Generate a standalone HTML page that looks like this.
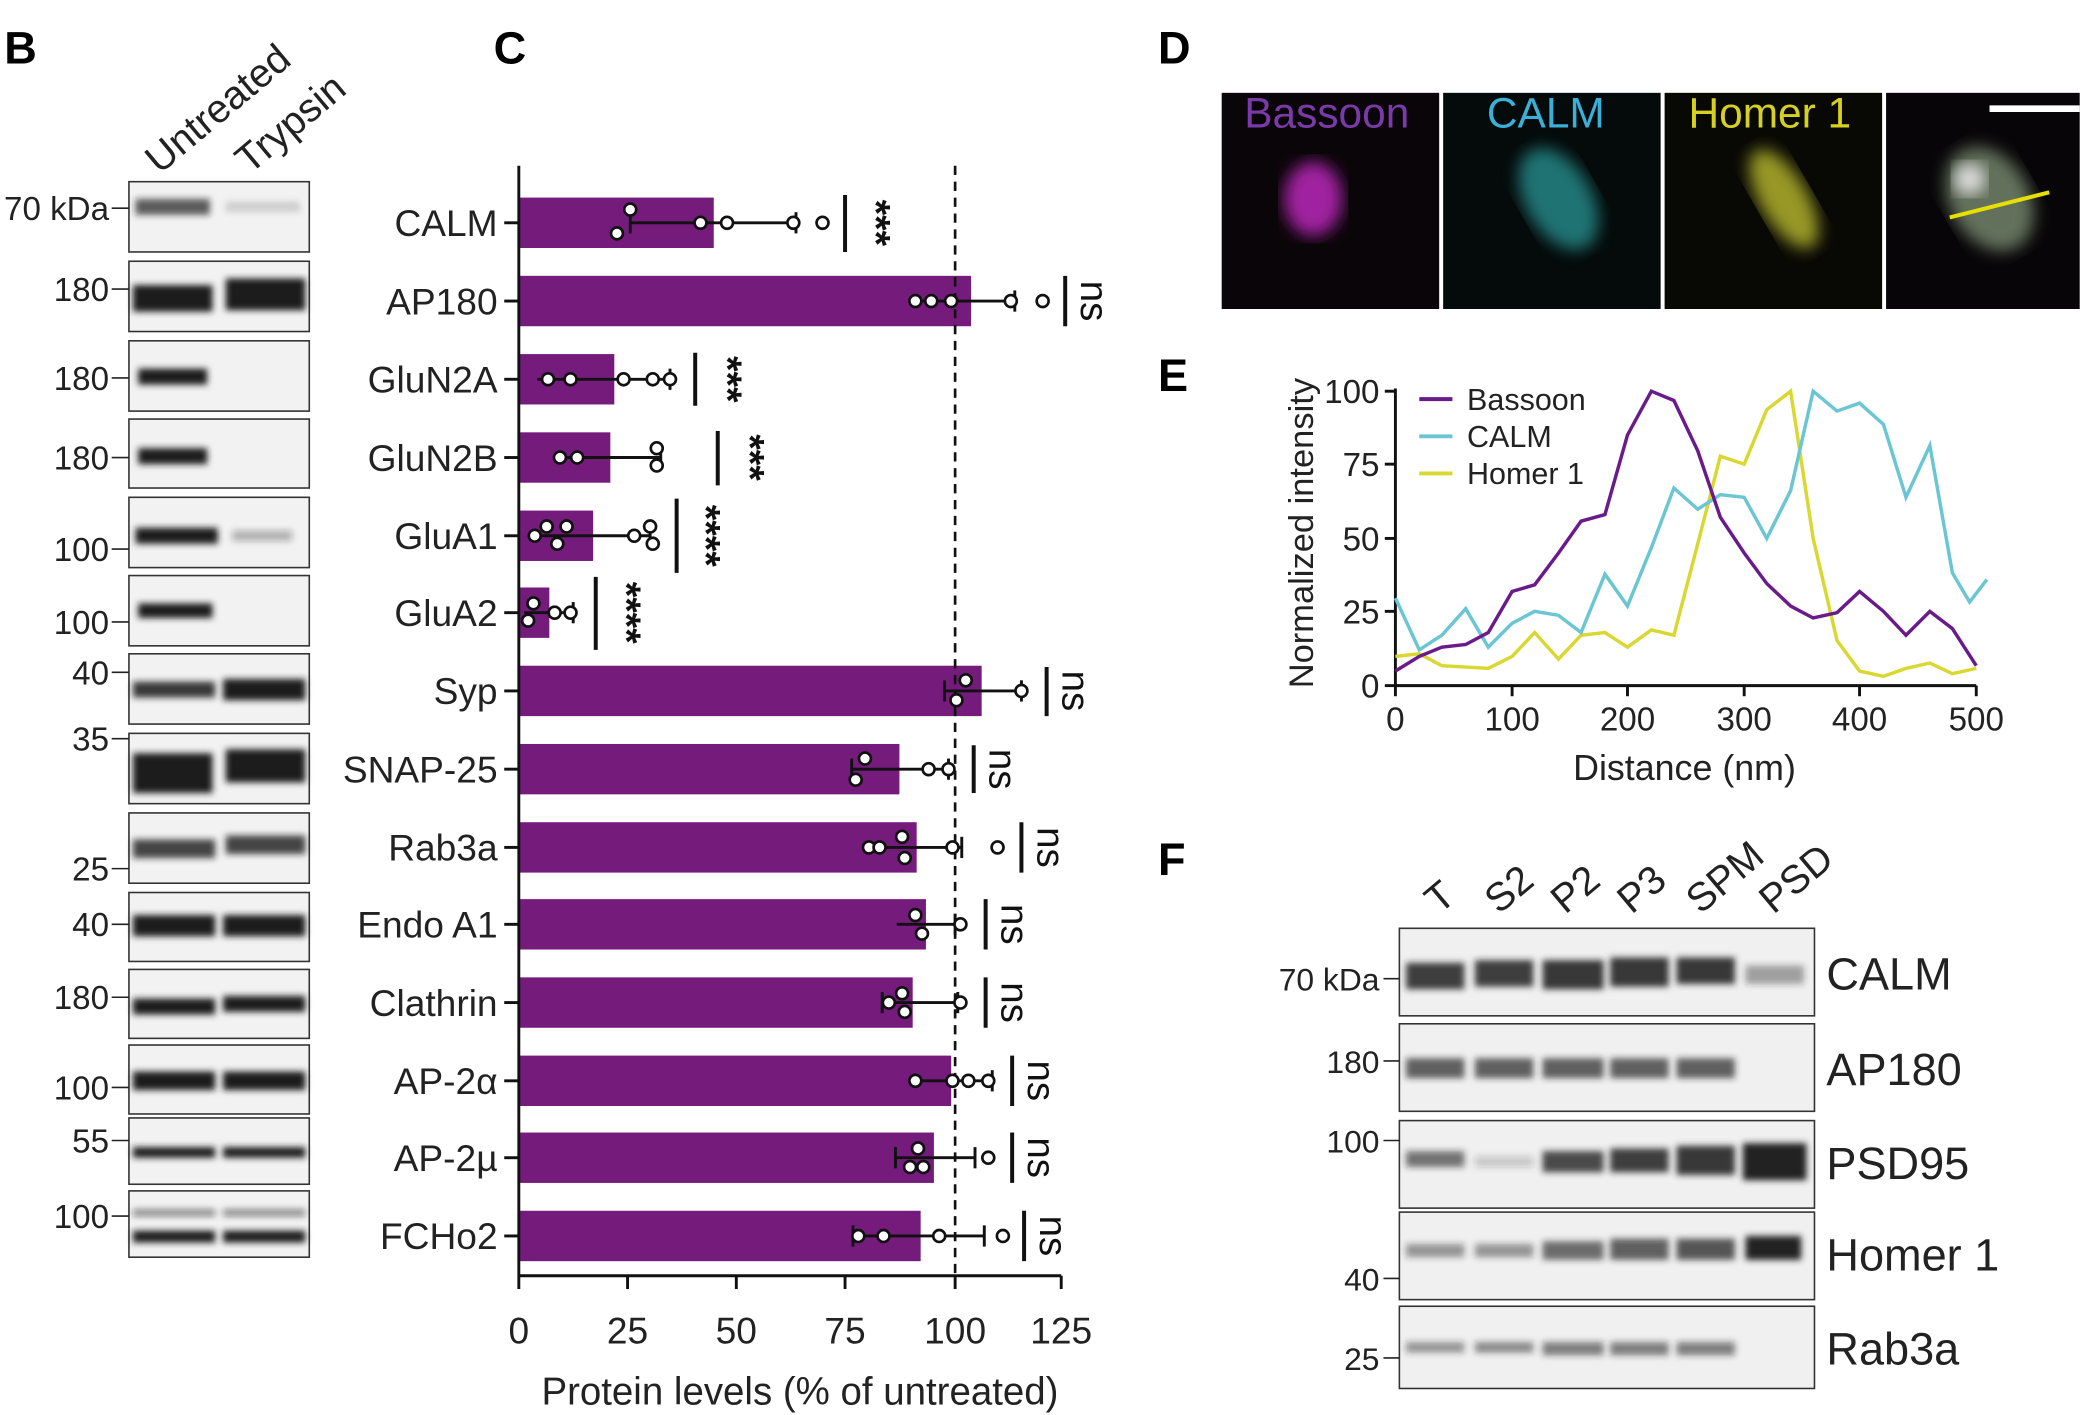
<!DOCTYPE html>
<html><head><meta charset="utf-8"><style>html,body{margin:0;padding:0;background:#fff}svg{display:block}text{font-family:"Liberation Sans",sans-serif}</style></head><body>
<svg width="2080" height="1415" viewBox="0 0 1568 1067" xmlns="http://www.w3.org/2000/svg">
<defs>
<filter id="bl"><feGaussianBlur stdDeviation="2.5"/></filter>
<filter id="bl2"><feGaussianBlur stdDeviation="6"/></filter>
</defs>
<g font-weight="bold" font-size="34">
<text x="3" y="48">B</text><text x="372" y="48">C</text><text x="873" y="48">D</text><text x="873" y="295">E</text><text x="873" y="660">F</text>
</g>
<!-- Panel B -->
<g font-size="30" fill="#222">
<text transform="translate(120,132) rotate(-40)">Untreated</text>
<text transform="translate(188,132) rotate(-40)">Trypsin</text>
</g>
<g stroke="#333" stroke-width="1.2" fill="#f2f2f2">
<rect x="97" y="137" width="136" height="53"/><rect x="97" y="197" width="136" height="53"/>
<rect x="97" y="257" width="136" height="53"/><rect x="97" y="316" width="136" height="52"/>
<rect x="97" y="375" width="136" height="53"/><rect x="97" y="434" width="136" height="53"/>
<rect x="97" y="493" width="136" height="53"/><rect x="97" y="553" width="136" height="53"/>
<rect x="97" y="613" width="136" height="53"/><rect x="97" y="673" width="136" height="52"/>
<rect x="97" y="731" width="136" height="52"/><rect x="97" y="788" width="136" height="52"/>
<rect x="97" y="843" width="136" height="50"/><rect x="97" y="898" width="136" height="50"/>
</g>
<g fill="#1a1a1a" filter="url(#bl)">
<rect x="102" y="150" width="56" height="12" opacity=".7"/><rect x="170" y="152" width="56" height="8" opacity=".15"/>
<rect x="100" y="215" width="60" height="20"/><rect x="170" y="210" width="60" height="24"/>
<rect x="104" y="278" width="52" height="12"/>
<rect x="104" y="338" width="52" height="12"/>
<rect x="102" y="398" width="62" height="12"/><rect x="175" y="400" width="45" height="8" opacity=".3"/>
<rect x="104" y="455" width="56" height="11"/>
<rect x="100" y="514" width="62" height="12" opacity=".85"/><rect x="168" y="512" width="62" height="16"/>
<rect x="100" y="568" width="60" height="30"/><rect x="170" y="565" width="60" height="25"/>
<rect x="100" y="633" width="62" height="14" opacity=".8"/><rect x="170" y="630" width="60" height="14" opacity=".8"/>
<rect x="100" y="690" width="62" height="16"/><rect x="168" y="690" width="62" height="16"/>
<rect x="100" y="753" width="62" height="12"/><rect x="168" y="751" width="62" height="12"/>
<rect x="100" y="808" width="62" height="14"/><rect x="168" y="808" width="62" height="14"/>
<rect x="100" y="865" width="62" height="8"/><rect x="168" y="865" width="62" height="8"/>
<rect x="100" y="912" width="62" height="5" opacity=".5"/><rect x="168" y="912" width="62" height="5" opacity=".5"/>
<rect x="100" y="928" width="62" height="9"/><rect x="168" y="928" width="62" height="9"/>
</g>
<g font-size="25" fill="#222" text-anchor="end">
<text x="82" y="166">70 kDa</text><text x="82" y="227">180</text><text x="82" y="294">180</text><text x="82" y="354">180</text>
<text x="82" y="423">100</text><text x="82" y="478">100</text><text x="82" y="516">40</text><text x="82" y="566">35</text>
<text x="82" y="664">25</text><text x="82" y="706">40</text><text x="82" y="761">180</text><text x="82" y="829">100</text>
<text x="82" y="869">55</text><text x="82" y="926">100</text>
</g>
<g stroke="#222" stroke-width="1.2">
<line x1="84" y1="157" x2="97" y2="157"/><line x1="84" y1="218" x2="97" y2="218"/><line x1="84" y1="285" x2="97" y2="285"/><line x1="84" y1="345" x2="97" y2="345"/><line x1="84" y1="414" x2="97" y2="414"/><line x1="84" y1="469" x2="97" y2="469"/><line x1="84" y1="507" x2="97" y2="507"/><line x1="84" y1="557" x2="97" y2="557"/><line x1="84" y1="655" x2="97" y2="655"/><line x1="84" y1="697" x2="97" y2="697"/><line x1="84" y1="752" x2="97" y2="752"/><line x1="84" y1="820" x2="97" y2="820"/><line x1="84" y1="860" x2="97" y2="860"/><line x1="84" y1="917" x2="97" y2="917"/>
</g>
<!-- Panel C -->
<g fill="#741b7c">
<rect x="391" y="149" width="147" height="38"/><rect x="391" y="208" width="341" height="38"/>
<rect x="391" y="267" width="72" height="38"/><rect x="391" y="326" width="69" height="38"/>
<rect x="391" y="385" width="56" height="38"/><rect x="391" y="443" width="23" height="38"/>
<rect x="391" y="502" width="349" height="38"/><rect x="391" y="561" width="287" height="38"/>
<rect x="391" y="620" width="300" height="38"/><rect x="391" y="678" width="307" height="38"/>
<rect x="391" y="737" width="297" height="38"/><rect x="391" y="796" width="326" height="38"/>
<rect x="391" y="854" width="313" height="38"/><rect x="391" y="913" width="303" height="38"/>
</g>
<line x1="720" y1="125" x2="720" y2="960" stroke="#111" stroke-width="2" stroke-dasharray="7,5"/>
<g stroke="#111" stroke-width="2.2">
<line x1="391" y1="125" x2="391" y2="962"/><line x1="390" y1="962" x2="800" y2="962"/>
<line x1="391" y1="962" x2="391" y2="972"/><line x1="473" y1="962" x2="473" y2="972"/><line x1="555" y1="962" x2="555" y2="972"/><line x1="637" y1="962" x2="637" y2="972"/><line x1="720" y1="962" x2="720" y2="972"/><line x1="800" y1="962" x2="800" y2="972"/>
<line x1="380" y1="168" x2="391" y2="168"/><line x1="380" y1="227" x2="391" y2="227"/><line x1="380" y1="286" x2="391" y2="286"/><line x1="380" y1="345" x2="391" y2="345"/><line x1="380" y1="404" x2="391" y2="404"/><line x1="380" y1="462" x2="391" y2="462"/><line x1="380" y1="521" x2="391" y2="521"/><line x1="380" y1="580" x2="391" y2="580"/><line x1="380" y1="639" x2="391" y2="639"/><line x1="380" y1="697" x2="391" y2="697"/><line x1="380" y1="756" x2="391" y2="756"/><line x1="380" y1="815" x2="391" y2="815"/><line x1="380" y1="873" x2="391" y2="873"/><line x1="380" y1="932" x2="391" y2="932"/>
<line x1="475" y1="168" x2="600" y2="168"/><line x1="600" y1="160" x2="600" y2="176"/><line x1="475" y1="160" x2="475" y2="176"/>
<line x1="690" y1="227" x2="765" y2="227"/><line x1="765" y1="219" x2="765" y2="235"/>
<line x1="405" y1="286" x2="505" y2="286"/><line x1="505" y1="278" x2="505" y2="294"/>
<line x1="420" y1="345" x2="498" y2="345"/><line x1="498" y1="337" x2="498" y2="353"/>
<line x1="400" y1="404" x2="490" y2="404"/><line x1="490" y1="396" x2="490" y2="412"/>
<line x1="395" y1="462" x2="432" y2="462"/><line x1="432" y1="454" x2="432" y2="470"/>
<line x1="712" y1="521" x2="770" y2="521"/><line x1="770" y1="513" x2="770" y2="529"/><line x1="712" y1="513" x2="712" y2="529"/>
<line x1="642" y1="580" x2="715" y2="580"/><line x1="642" y1="572" x2="642" y2="588"/><line x1="715" y1="572" x2="715" y2="588"/>
<line x1="650" y1="639" x2="725" y2="639"/><line x1="725" y1="631" x2="725" y2="647"/>
<line x1="676" y1="697" x2="720" y2="697"/><line x1="720" y1="689" x2="720" y2="705"/>
<line x1="665" y1="756" x2="722" y2="756"/><line x1="722" y1="748" x2="722" y2="764"/><line x1="665" y1="748" x2="665" y2="764"/>
<line x1="687" y1="815" x2="748" y2="815"/><line x1="748" y1="807" x2="748" y2="823"/>
<line x1="675" y1="873" x2="735" y2="873"/><line x1="735" y1="865" x2="735" y2="881"/><line x1="675" y1="865" x2="675" y2="881"/>
<line x1="643" y1="932" x2="742" y2="932"/><line x1="742" y1="924" x2="742" y2="940"/><line x1="643" y1="924" x2="643" y2="940"/>
<line x1="637" y1="147" x2="637" y2="190" stroke-width="3"/><line x1="803" y1="208" x2="803" y2="246" stroke-width="3"/>
<line x1="524" y1="266" x2="524" y2="306" stroke-width="3"/><line x1="541" y1="325" x2="541" y2="366" stroke-width="3"/>
<line x1="510" y1="376" x2="510" y2="432" stroke-width="3"/><line x1="449" y1="435" x2="449" y2="490" stroke-width="3"/>
<line x1="789" y1="503" x2="789" y2="540" stroke-width="3"/><line x1="734" y1="562" x2="734" y2="598" stroke-width="3"/>
<line x1="770" y1="620" x2="770" y2="658" stroke-width="3"/><line x1="743" y1="678" x2="743" y2="716" stroke-width="3"/>
<line x1="743" y1="737" x2="743" y2="775" stroke-width="3"/><line x1="763" y1="796" x2="763" y2="834" stroke-width="3"/>
<line x1="763" y1="854" x2="763" y2="892" stroke-width="3"/><line x1="772" y1="913" x2="772" y2="951" stroke-width="3"/>
</g>
<g fill="#fff" stroke="#111" stroke-width="2">
<circle cx="465" cy="176" r="4.5"/><circle cx="475" cy="158" r="4.5"/><circle cx="528" cy="168" r="4.5"/><circle cx="548" cy="168" r="4.5"/><circle cx="598" cy="168" r="4.5"/><circle cx="620" cy="168" r="4.5"/>
<circle cx="690" cy="227" r="4.5"/><circle cx="702" cy="227" r="4.5"/><circle cx="717" cy="227" r="4.5"/><circle cx="762" cy="227" r="4.5"/><circle cx="786" cy="227" r="4.5"/>
<circle cx="413" cy="286" r="4.5"/><circle cx="430" cy="286" r="4.5"/><circle cx="470" cy="286" r="4.5"/><circle cx="492" cy="286" r="4.5"/><circle cx="505" cy="286" r="4.5"/>
<circle cx="422" cy="345" r="4.5"/><circle cx="435" cy="345" r="4.5"/><circle cx="495" cy="338" r="4.5"/><circle cx="495" cy="351" r="4.5"/>
<circle cx="403" cy="404" r="4.5"/><circle cx="412" cy="397" r="4.5"/><circle cx="420" cy="410" r="4.5"/><circle cx="427" cy="397" r="4.5"/><circle cx="478" cy="404" r="4.5"/><circle cx="490" cy="397" r="4.5"/><circle cx="492" cy="410" r="4.5"/>
<circle cx="398" cy="468" r="4.5"/><circle cx="402" cy="455" r="4.5"/><circle cx="418" cy="462" r="4.5"/><circle cx="430" cy="462" r="4.5"/>
<circle cx="721" cy="528" r="4.5"/><circle cx="728" cy="513" r="4.5"/><circle cx="770" cy="521" r="4.5"/>
<circle cx="645" cy="588" r="4.5"/><circle cx="652" cy="572" r="4.5"/><circle cx="700" cy="580" r="4.5"/><circle cx="715" cy="580" r="4.5"/>
<circle cx="655" cy="639" r="4.5"/><circle cx="663" cy="639" r="4.5"/><circle cx="680" cy="631" r="4.5"/><circle cx="682" cy="647" r="4.5"/><circle cx="718" cy="639" r="4.5"/><circle cx="752" cy="639" r="4.5"/>
<circle cx="690" cy="690" r="4.5"/><circle cx="695" cy="704" r="4.5"/><circle cx="724" cy="697" r="4.5"/>
<circle cx="670" cy="756" r="4.5"/><circle cx="680" cy="749" r="4.5"/><circle cx="682" cy="763" r="4.5"/><circle cx="724" cy="756" r="4.5"/>
<circle cx="690" cy="815" r="4.5"/><circle cx="718" cy="815" r="4.5"/><circle cx="730" cy="815" r="4.5"/><circle cx="745" cy="815" r="4.5"/>
<circle cx="686" cy="880" r="4.5"/><circle cx="692" cy="866" r="4.5"/><circle cx="696" cy="880" r="4.5"/><circle cx="745" cy="873" r="4.5"/>
<circle cx="647" cy="932" r="4.5"/><circle cx="666" cy="932" r="4.5"/><circle cx="708" cy="932" r="4.5"/><circle cx="756" cy="932" r="4.5"/>
</g>
<g font-size="28" fill="#222" text-anchor="end">
<text x="375" y="178">CALM</text><text x="375" y="237">AP180</text><text x="375" y="296">GluN2A</text><text x="375" y="355">GluN2B</text>
<text x="375" y="414">GluA1</text><text x="375" y="472">GluA2</text><text x="375" y="531">Syp</text><text x="375" y="590">SNAP-25</text>
<text x="375" y="649">Rab3a</text><text x="375" y="707">Endo A1</text><text x="375" y="766">Clathrin</text><text x="375" y="825">AP-2α</text>
<text x="375" y="883">AP-2µ</text><text x="375" y="942">FCHo2</text>
</g>
<g font-size="28" fill="#222" text-anchor="middle">
<text x="391" y="1013">0</text><text x="473" y="1013">25</text><text x="555" y="1013">50</text><text x="637" y="1013">75</text><text x="720" y="1013">100</text><text x="800" y="1013">125</text>
<text x="603" y="1059" font-size="29">Protein levels (% of untreated)</text>
</g>
<g font-size="30" fill="#111" font-weight="bold">
<text transform="translate(650,168) rotate(90)" text-anchor="middle">***</text>
<text transform="translate(538,286) rotate(90)" text-anchor="middle">***</text>
<text transform="translate(555,345) rotate(90)" text-anchor="middle">***</text>
<text transform="translate(522,404) rotate(90)" text-anchor="middle">****</text>
<text transform="translate(462,462) rotate(90)" text-anchor="middle">****</text>
</g>
<g font-size="29" fill="#111">
<text transform="translate(815,227) rotate(90)" text-anchor="middle">ns</text>
<text transform="translate(801,521) rotate(90)" text-anchor="middle">ns</text>
<text transform="translate(746,580) rotate(90)" text-anchor="middle">ns</text>
<text transform="translate(782,639) rotate(90)" text-anchor="middle">ns</text>
<text transform="translate(755,697) rotate(90)" text-anchor="middle">ns</text>
<text transform="translate(755,756) rotate(90)" text-anchor="middle">ns</text>
<text transform="translate(775,815) rotate(90)" text-anchor="middle">ns</text>
<text transform="translate(775,873) rotate(90)" text-anchor="middle">ns</text>
<text transform="translate(784,932) rotate(90)" text-anchor="middle">ns</text>
</g>
<!-- Panel D -->
<rect x="921" y="70" width="164" height="163" fill="#0a0508"/>
<rect x="1088" y="70" width="164" height="163" fill="#050a0a"/>
<rect x="1255" y="70" width="164" height="163" fill="#080805"/>
<rect x="1422" y="70" width="146" height="163" fill="#080508"/>
<ellipse cx="990" cy="150" rx="22" ry="28" fill="#a020a0" filter="url(#bl2)"/>
<ellipse cx="1175" cy="150" rx="25" ry="42" fill="#2aa0a0" opacity=".7" filter="url(#bl2)" transform="rotate(-30 1175 150)"/>
<ellipse cx="1345" cy="150" rx="18" ry="42" fill="#c8c830" opacity=".75" filter="url(#bl2)" transform="rotate(-30 1345 150)"/>
<ellipse cx="1500" cy="150" rx="30" ry="42" fill="#8aa080" opacity=".7" filter="url(#bl2)" transform="rotate(-30 1500 150)"/>
<ellipse cx="1485" cy="135" rx="12" ry="12" fill="#ddd" filter="url(#bl2)"/>
<line x1="1470" y1="164" x2="1545" y2="145" stroke="#e6e000" stroke-width="3"/>
<line x1="1500" y1="82" x2="1568" y2="82" stroke="#fff" stroke-width="5"/>
<g font-size="32">
<text x="938" y="96" fill="#7a3aa8">Bassoon</text><text x="1121" y="96" fill="#3ab0d8">CALM</text><text x="1273" y="96" fill="#d8d020">Homer 1</text>
</g>
<!-- Panel E -->
<g stroke="#111" stroke-width="2.2">
<line x1="1052" y1="293" x2="1052" y2="517"/><line x1="1051" y1="517" x2="1490" y2="517"/>
<line x1="1044" y1="295" x2="1052" y2="295"/><line x1="1044" y1="350" x2="1052" y2="350"/><line x1="1044" y1="406" x2="1052" y2="406"/><line x1="1044" y1="461" x2="1052" y2="461"/><line x1="1044" y1="517" x2="1052" y2="517"/>
<line x1="1052" y1="517" x2="1052" y2="525"/><line x1="1140" y1="517" x2="1140" y2="525"/><line x1="1227" y1="517" x2="1227" y2="525"/><line x1="1315" y1="517" x2="1315" y2="525"/><line x1="1402" y1="517" x2="1402" y2="525"/><line x1="1490" y1="517" x2="1490" y2="525"/>
</g>
<g font-size="25" fill="#222" text-anchor="end">
<text x="1040" y="304">100</text><text x="1040" y="359">75</text><text x="1040" y="415">50</text><text x="1040" y="470">25</text><text x="1040" y="526">0</text>
</g>
<g font-size="25" fill="#222" text-anchor="middle">
<text x="1052" y="551">0</text><text x="1140" y="551">100</text><text x="1227" y="551">200</text><text x="1315" y="551">300</text><text x="1402" y="551">400</text><text x="1490" y="551">500</text>
<text x="1270" y="588" font-size="27">Distance (nm)</text>
<text transform="translate(990,402) rotate(-90)" font-size="26">Normalized intensity</text>
</g>
<g fill="none" stroke-width="2.6">
<polyline stroke="#d8d830" points="1052,495 1070,493 1087,502 1105,503 1122,504 1140,495 1157,477 1175,497 1192,479 1210,477 1227,488 1245,475 1262,479 1280,410 1297,344 1315,350 1332,309 1350,295 1367,406 1385,483 1402,506 1420,510 1437,504 1455,500 1472,508 1490,504"/>
<polyline stroke="#6ac6d2" points="1052,451 1070,490 1087,479 1105,459 1122,488 1140,470 1157,461 1175,464 1192,477 1210,433 1227,457 1245,413 1262,368 1280,384 1297,373 1315,375 1332,406 1350,370 1367,295 1385,310 1402,304 1420,320 1437,375 1455,336 1472,432 1485,454 1498,437"/>
<polyline stroke="#6a1b8a" points="1052,506 1070,495 1087,488 1105,486 1122,477 1140,446 1157,441 1175,417 1192,393 1210,388 1227,328 1245,295 1262,302 1280,340 1297,390 1315,417 1332,440 1350,457 1367,466 1385,462 1402,446 1420,461 1437,479 1455,461 1472,474 1490,502"/>
</g>
<g stroke-width="3">
<line x1="1070" y1="301" x2="1095" y2="301" stroke="#6a1b8a"/><line x1="1070" y1="329" x2="1095" y2="329" stroke="#6ac6d2"/><line x1="1070" y1="357" x2="1095" y2="357" stroke="#d8d830"/>
</g>
<g font-size="23" fill="#222"><text x="1106" y="309">Bassoon</text><text x="1106" y="337">CALM</text><text x="1106" y="365">Homer 1</text></g>
<!-- Panel F -->
<g font-size="30" fill="#222">
<text transform="translate(1085,690) rotate(-40)">T</text>
<text transform="translate(1130,690) rotate(-40)">S2</text>
<text transform="translate(1180,690) rotate(-40)">P2</text>
<text transform="translate(1230,690) rotate(-40)">P3</text>
<text transform="translate(1282,690) rotate(-40)">SPM</text>
<text transform="translate(1337,690) rotate(-40)">PSD</text>
</g>
<g stroke="#333" stroke-width="1.2" fill="#f0f0f0">
<rect x="1055" y="700" width="313" height="66"/><rect x="1055" y="772" width="313" height="66"/><rect x="1055" y="845" width="313" height="66"/><rect x="1055" y="914" width="313" height="66"/><rect x="1055" y="985" width="313" height="62"/>
</g>
<g fill="#222" filter="url(#bl)">
<rect x="1060" y="726" width="44" height="20" opacity=".85"/><rect x="1112" y="724" width="44" height="20" opacity=".85"/><rect x="1163" y="724" width="46" height="22" opacity=".9"/><rect x="1214" y="722" width="44" height="22" opacity=".9"/><rect x="1264" y="722" width="44" height="20" opacity=".9"/><rect x="1316" y="728" width="44" height="14" opacity=".4"/>
<rect x="1060" y="798" width="44" height="15" opacity=".7"/><rect x="1112" y="798" width="44" height="15" opacity=".7"/><rect x="1163" y="798" width="46" height="15" opacity=".7"/><rect x="1214" y="798" width="44" height="15" opacity=".7"/><rect x="1264" y="798" width="44" height="15" opacity=".7"/>
<rect x="1060" y="868" width="44" height="12" opacity=".6"/><rect x="1112" y="872" width="44" height="8" opacity=".2"/><rect x="1163" y="868" width="46" height="16" opacity=".8"/><rect x="1214" y="866" width="44" height="18" opacity=".85"/><rect x="1264" y="864" width="44" height="22" opacity=".9"/><rect x="1314" y="862" width="48" height="28"/>
<rect x="1060" y="938" width="44" height="10" opacity=".45"/><rect x="1112" y="938" width="44" height="10" opacity=".45"/><rect x="1163" y="936" width="46" height="14" opacity=".65"/><rect x="1214" y="934" width="44" height="16" opacity=".7"/><rect x="1264" y="934" width="44" height="16" opacity=".75"/><rect x="1316" y="932" width="42" height="18"/>
<rect x="1060" y="1012" width="44" height="8" opacity=".45"/><rect x="1112" y="1012" width="44" height="8" opacity=".5"/><rect x="1163" y="1012" width="46" height="10" opacity=".55"/><rect x="1214" y="1012" width="44" height="10" opacity=".55"/><rect x="1264" y="1012" width="44" height="10" opacity=".55"/>
</g>
<g font-size="24" fill="#222" text-anchor="end">
<text x="1040" y="747">70 kDa</text><text x="1040" y="809">180</text><text x="1040" y="869">100</text><text x="1040" y="973">40</text><text x="1040" y="1033">25</text>
</g>
<g stroke="#222" stroke-width="1.2"><line x1="1043" y1="738" x2="1055" y2="738"/><line x1="1043" y1="800" x2="1055" y2="800"/><line x1="1043" y1="860" x2="1055" y2="860"/><line x1="1043" y1="964" x2="1055" y2="964"/><line x1="1043" y1="1024" x2="1055" y2="1024"/></g>
<g font-size="34" fill="#222">
<text x="1377" y="746">CALM</text><text x="1377" y="818">AP180</text><text x="1377" y="889">PSD95</text><text x="1377" y="958">Homer 1</text><text x="1377" y="1029">Rab3a</text>
</g>
</svg>
</body></html>
